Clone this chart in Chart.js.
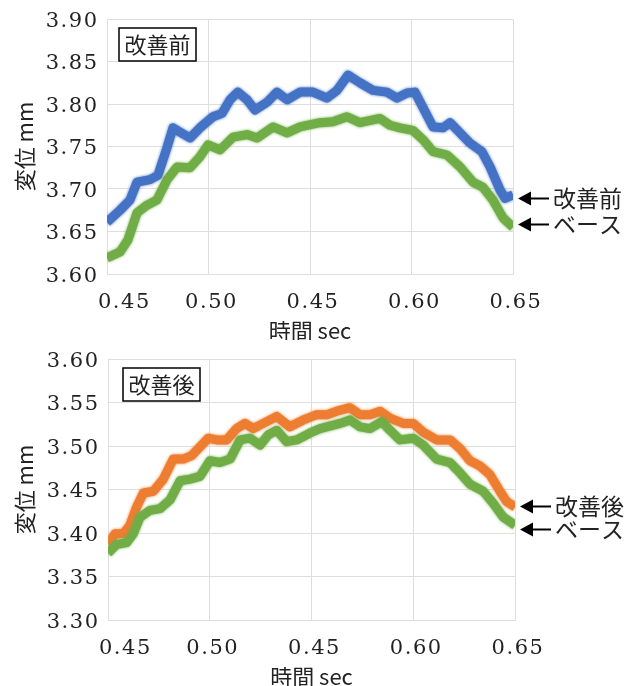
<!DOCTYPE html>
<html lang="ja">
<head>
<meta charset="utf-8">
<title>変位</title>
<script src="https://cdn.jsdelivr.net/npm/chart.js@4.4.1/dist/chart.umd.min.js"></script>
<style>
  html, body { margin: 0; padding: 0; background: #fff; }
  canvas { position: absolute; left: 0; }
  #before { top: 0; }
  #after { top: 340px; }
</style>
</head>
<body>
<canvas id="before" width="638" height="340"></canvas>
<canvas id="after" width="638" height="346"></canvas>
<script>
// 改善前 (blue) and ベース (green), upper chart
const beforeTime = [0.450, 0.4564, 0.4613, 0.4648, 0.4712, 0.4751, 0.4796, 0.4825, 0.4860, 0.4909,
  0.4958, 0.5022, 0.5067, 0.5106, 0.5145, 0.5190, 0.5229, 0.5288, 0.5337, 0.5387,
  0.5451, 0.5515, 0.5584, 0.5633, 0.5687, 0.5746, 0.5810, 0.5879, 0.5929, 0.5978,
  0.6017, 0.6067, 0.6106, 0.6155, 0.6190, 0.6239, 0.6288, 0.6347, 0.6387, 0.6436,
  0.6461, 0.650];
const beforeDisp = [3.661, 3.675, 3.687, 3.708, 3.711, 3.716, 3.749, 3.772, 3.767, 3.760,
  3.772, 3.785, 3.789, 3.805, 3.814, 3.805, 3.793, 3.802, 3.814, 3.805,
  3.814, 3.814, 3.807, 3.816, 3.834, 3.825, 3.816, 3.814, 3.807, 3.813,
  3.814, 3.791, 3.773, 3.772, 3.778, 3.766, 3.754, 3.744, 3.726, 3.699,
  3.689, 3.693];
const baseTime1 = [0.450, 0.4564, 0.4603, 0.4648, 0.4697, 0.4746, 0.4796, 0.4845, 0.4909, 0.4958,
  0.4998, 0.5057, 0.5121, 0.5190, 0.5239, 0.5318, 0.5387, 0.5451, 0.5549, 0.5613,
  0.5682, 0.5746, 0.5845, 0.5894, 0.5943, 0.6007, 0.6057, 0.6106, 0.6175, 0.6239,
  0.6303, 0.6352, 0.6401, 0.6451, 0.650];
const baseDisp1 = [3.619, 3.626, 3.640, 3.672, 3.681, 3.687, 3.711, 3.726, 3.725, 3.738,
  3.752, 3.746, 3.761, 3.764, 3.760, 3.773, 3.766, 3.773, 3.778, 3.779,
  3.785, 3.778, 3.783, 3.775, 3.772, 3.769, 3.758, 3.744, 3.740, 3.726,
  3.708, 3.702, 3.687, 3.666, 3.655];

// 改善後 (orange) and ベース (green), lower chart
const afterTime = [0.450, 0.4534, 0.4575, 0.4608, 0.4641, 0.4674, 0.4723, 0.4772, 0.4821, 0.4870,
  0.4911, 0.4952, 0.4993, 0.5034, 0.5083, 0.5132, 0.5173, 0.5214, 0.5263, 0.5329,
  0.5394, 0.5460, 0.5526, 0.5575, 0.5624, 0.5689, 0.5738, 0.5787, 0.5837, 0.5886,
  0.5951, 0.6000, 0.6049, 0.6115, 0.6181, 0.6230, 0.6279, 0.6328, 0.6377, 0.6426,
  0.6459, 0.650];
const afterDisp = [3.387, 3.399, 3.399, 3.409, 3.430, 3.446, 3.448, 3.462, 3.485, 3.485,
  3.489, 3.499, 3.509, 3.507, 3.507, 3.520, 3.526, 3.520, 3.526, 3.534,
  3.522, 3.530, 3.536, 3.536, 3.540, 3.544, 3.536, 3.536, 3.540, 3.532,
  3.526, 3.526, 3.516, 3.507, 3.507, 3.497, 3.483, 3.477, 3.467, 3.448,
  3.436, 3.430];
const baseTime2 = [0.450, 0.4543, 0.4592, 0.4624, 0.4657, 0.4706, 0.4756, 0.4805, 0.4854, 0.4903,
  0.4952, 0.5001, 0.5050, 0.5100, 0.5149, 0.5198, 0.5247, 0.5288, 0.5329, 0.5378,
  0.5427, 0.5493, 0.5542, 0.5575, 0.5640, 0.5689, 0.5738, 0.5787, 0.5845, 0.5886,
  0.5935, 0.6000, 0.6049, 0.6115, 0.6181, 0.6230, 0.6279, 0.6344, 0.6393, 0.6443,
  0.650];
const baseDisp2 = [3.377, 3.387, 3.389, 3.399, 3.418, 3.426, 3.428, 3.438, 3.460, 3.462,
  3.465, 3.483, 3.481, 3.485, 3.507, 3.509, 3.501, 3.513, 3.518, 3.505,
  3.507, 3.515, 3.520, 3.522, 3.526, 3.530, 3.522, 3.520, 3.528, 3.518,
  3.507, 3.509, 3.501, 3.485, 3.481, 3.469, 3.456, 3.448, 3.434, 3.418,
  3.409];

const xTickValues = [0.45, 0.50, 0.55, 0.60, 0.65];
const xTickLabels = ['0.45', '0.50', '0.45', '0.60', '0.65'];
const yTicksBefore = [3.60, 3.65, 3.70, 3.75, 3.80, 3.85, 3.90];
const yTicksAfter = [3.30, 3.35, 3.40, 3.45, 3.50, 3.55, 3.60];

// where the side arrows point (mm)
const notesBefore = [3.689, 3.659];
const notesAfter = [3.431, 3.405];

const JP = '"Noto Sans CJK JP", sans-serif';
const NUM = '21px "DejaVu Serif", "Liberation Serif", serif';
const INK = '#222';
const GRID = '#dedede';

const toPoints = (xs, ys) => xs.map((x, i) => ({ x: x, y: ys[i] }));

// tick numbers drawn by hand so they can get the wide, spaced-out look
const tickText = {
  id: 'tickText',
  afterDraw(chart, args, opts) {
    const { ctx, chartArea, scales } = chart;
    ctx.save();
    ctx.font = NUM;
    ctx.letterSpacing = '1.5px';
    ctx.fillStyle = INK;
    ctx.textBaseline = 'alphabetic';
    ctx.textAlign = 'right';
    opts.yTicks.forEach(v => {
      ctx.fillText(v.toFixed(2), chartArea.left - 8.5, scales.y.getPixelForValue(v) + 7.5);
    });
    ctx.textAlign = 'left';
    xTickValues.forEach((v, i) => {
      const label = xTickLabels[i];
      const w = ctx.measureText(label).width;
      let left = scales.x.getPixelForValue(v) + 3 - w / 2;
      left = Math.max(left, chartArea.left - 9);
      ctx.fillText(label, left, chartArea.bottom + 34);
    });
    ctx.restore();
  }
};

// soft, slightly ragged edge on the measured traces
const softEdge = {
  id: 'softEdge',
  beforeDatasetDraw(chart, args) {
    const ctx = chart.ctx;
    ctx.save();
    ctx.shadowColor = args.meta.dataset.options.borderColor;
    ctx.shadowBlur = 3;
  },
  afterDatasetDraw(chart) {
    chart.ctx.restore();
  }
};

// boxed caption in the corner + arrows pointing at each line's end
const sideNotes = {
  id: 'sideNotes',
  afterDraw(chart, args, opts) {
    const { ctx, chartArea } = chart;
    ctx.save();
    ctx.font = '22px ' + JP;
    const w = ctx.measureText(opts.caption).width + 11;
    const bx = chartArea.left + opts.dx, by = chartArea.top + 9;
    ctx.fillStyle = '#fff';
    ctx.fillRect(bx, by, w, 33);
    ctx.lineWidth = 1.5;
    ctx.strokeStyle = '#000';
    ctx.strokeRect(bx, by, w, 33);
    ctx.fillStyle = INK;
    ctx.textAlign = 'center';
    ctx.textBaseline = 'middle';
    ctx.fillText(opts.caption, bx + w / 2, by + 17);

    const yScale = chart.scales.y;
    ctx.textAlign = 'left';
    ctx.font = '23px ' + JP;
    chart.data.datasets.forEach((ds, i) => {
      const py = Math.round(yScale.getPixelForValue(opts.at[i])) + 0.5;
      const x0 = chartArea.right + 5;
      ctx.fillStyle = '#000';
      ctx.beginPath();
      ctx.moveTo(x0, py);
      ctx.lineTo(x0 + 13, py - 7);
      ctx.lineTo(x0 + 13, py + 7);
      ctx.closePath();
      ctx.fill();
      ctx.strokeStyle = '#000';
      ctx.lineWidth = 2;
      ctx.beginPath();
      ctx.moveTo(x0 + 12, py);
      ctx.lineTo(x0 + 31, py);
      ctx.stroke();
      ctx.fillStyle = INK;
      ctx.fillText(ds.label, x0 + 35, py);
    });
    ctx.restore();
  }
};

function makeChart(id, datasets, yTicks, caption, notes, frame) {
  return new Chart(document.getElementById(id), {
    type: 'line',
    data: { datasets: datasets },
    options: {
      responsive: false,
      animation: false,
      layout: { padding: { left: 0, right: frame.right, top: 19, bottom: 0 } },
      elements: {
        point: { radius: 0 },
        line: { borderWidth: 9, tension: 0, borderJoinStyle: 'round' }
      },
      plugins: {
        legend: { display: false },
        tooltip: { enabled: false },
        sideNotes: { caption: caption, dx: frame.dx, at: notes },
        tickText: { yTicks: yTicks }
      },
      scales: {
        x: {
          type: 'linear',
          min: 0.45,
          max: 0.65,
          afterBuildTicks: s => { s.ticks = xTickValues.map(v => ({ value: v })); },
          afterFit: s => { s.height = 66; },
          grid: { color: GRID, drawTicks: false },
          border: { color: GRID },
          ticks: { display: false },
          title: {
            display: true,
            text: '時間 sec',
            color: INK,
            font: { family: JP, size: 22, lineHeight: 1 },
            padding: { top: 0, bottom: -2 }
          }
        },
        y: {
          min: yTicks[0],
          max: yTicks[yTicks.length - 1],
          afterBuildTicks: s => { s.ticks = yTicks.map(v => ({ value: v })); },
          afterFit: s => { s.width = frame.left; },
          grid: { color: GRID, drawTicks: false },
          border: { color: GRID },
          ticks: { display: false },
          title: {
            display: true,
            text: '変位 mm',
            color: INK,
            font: { family: JP, size: 22, lineHeight: 1 },
            padding: { top: 14, bottom: 0 }
          }
        }
      }
    },
    plugins: [softEdge, tickText, sideNotes]
  });
}

makeChart('before', [
  { label: '改善前', data: toPoints(beforeTime, beforeDisp), borderColor: '#4472C4', clip: 0, order: 1 },
  { label: 'ベース', data: toPoints(baseTime1, baseDisp1), borderColor: '#70AD47', clip: 0, order: 0 }
], yTicksBefore, '改善前', notesBefore, { left: 107, right: 125, dx: 12 });

makeChart('after', [
  { label: '改善後', data: toPoints(afterTime, afterDisp), borderColor: '#ED7D31', clip: 0, order: 1 },
  { label: 'ベース', data: toPoints(baseTime2, baseDisp2), borderColor: '#70AD47', clip: 0, order: 0 }
], yTicksAfter, '改善後', notesAfter, { left: 108, right: 123, dx: 15 });
</script>
</body>
</html>
